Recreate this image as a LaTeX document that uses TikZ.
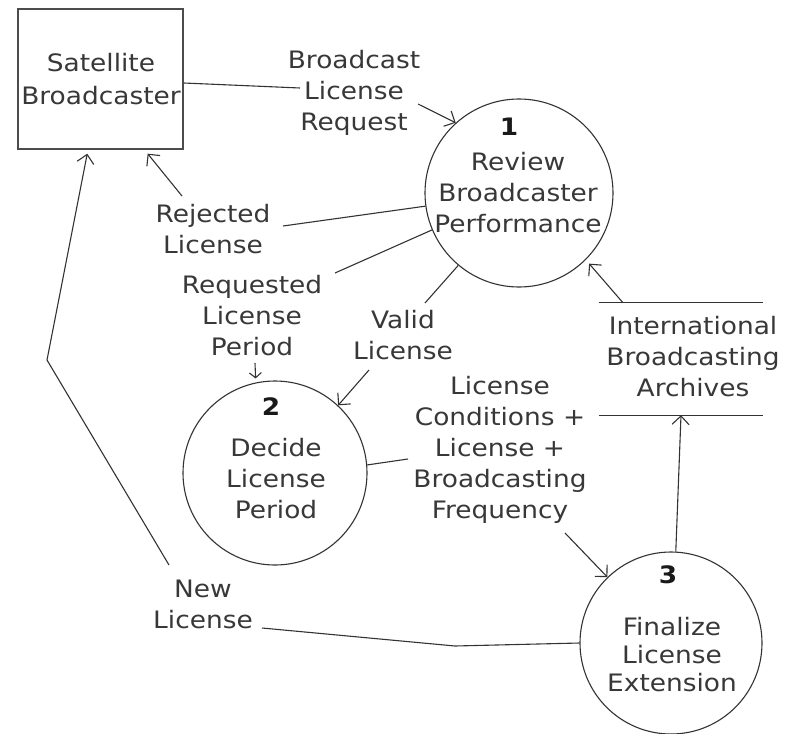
\documentclass[tikz,border=0pt]{standalone}
\usepackage{fontspec}
\setmainfont{DejaVu Sans}[FakeStretch=1.1]
\usetikzlibrary{arrows.meta}
\begin{document}
\begin{tikzpicture}[x=1pt,y=-1pt,
  txt/.style={font=\fontsize{24}{31}\selectfont, align=center, inner sep=0pt, text=black!78},
  num/.style={font=\fontsize{24}{28}\selectfont\bfseries, inner sep=0pt, text=black!90},
  proc/.style={circle, draw=black!80, line width=1.1pt, inner sep=0pt},
  flow/.style={draw=black!80, line width=1.1pt},
  arr/.style={flow, -{Straight Barb[length=8.5pt,width=17pt,line width=1.1pt]}}]
\useasboundingbox (0,0) rectangle (793,734);
\fill[white] (0,0) rectangle (793,734);

% external entity
\node[draw=black!70, line width=1.6pt, minimum width=165pt, minimum height=140pt, inner sep=0pt] (sat) at (100.5,79) {};
\node[txt] (satt) at (101,79) {Satellite\\[2pt]Broadcaster};

% processes
\node[proc, minimum size=188pt] (c1) at (519,193) {};
\node[num] (c1n) at (509,127) {1};
\node[txt] (c1t) at (518,193) {Review\\Broadcaster\\Performance};

\node[proc, minimum size=184pt] (c2) at (275,473) {};
\node[num] (c2n) at (271,407) {2};
\node[txt] (c2t) at (276,479) {Decide\\License\\Period};

\node[proc, minimum size=182pt] (c3) at (671,643) {};
\node[num] (c3n) at (668,575) {3};
\node[txt] (c3t) at (672,655) {Finalize\\[-3pt]License\\[-3pt]Extension};

% data store
\node[minimum width=164pt, minimum height=112pt, inner sep=0pt] (ar) at (681,359) {};
\draw[flow] (ar.north west) -- (ar.north east);
\draw[flow] (ar.south west) -- (ar.south east);
\node[txt] (art) at (693,357) {International\\Broadcasting\\Archives};

% labels
\node[txt] (blr) at (354,93) {Broadcast\\License\\Request};
\node[txt] (rej) at (213,229) {Rejected\\License};
\node[txt] (req) at (252,316) {Requested\\License\\Period};
\node[txt] (val) at (403,335) {Valid\\License};
\node[txt] (cond) at (500,450) {License\\Conditions +\\License +\\Broadcasting\\Frequency};
\node[txt] (newl) at (203,604) {New\\License};

% bend points
\coordinate (b1) at (300,88);
\coordinate (b2) at (418,104);
\coordinate (r1) at (283,226);
\coordinate (r2) at (182,196);
\coordinate (q1) at (335,273);
\coordinate (q2) at (255,363);
\coordinate (v1) at (425,303);
\coordinate (v2) at (369,370);
\coordinate (k1) at (408,459);
\coordinate (k2) at (565,533);
\coordinate (n1) at (455,646);
\coordinate (n2) at (262,628);
\coordinate (n3) at (169,565);
\coordinate (n4) at (47,360);

% flows
\draw[flow] ([yshift=-4pt]sat.east) -- (b1);
\draw[arr] (b2) -- (c1.132);

\draw[flow] (c1.188) -- (r1);
\draw[arr, shorten >=5pt] (r2) -- ([xshift=44pt]sat.south);

\draw[flow] (c1.203) -- (q1);
\draw[flow, -{Straight Barb[length=5pt,width=12pt,line width=1.1pt]}, shorten >=4pt] (q2) -- (c2.102);

\draw[flow] (c1.230) -- (v1);
\draw[arr] (v2) -- (c2.47);

\draw[flow] (c2.5) -- (k1);
\draw[arr] (k2) -- (c3.134);

\draw[arr] (c3.87) -- (ar.south);
\draw[arr, shorten >=5pt] ([xshift=-58pt]ar.north) -- (c1.315);

\draw[flow] (c3.west) -- (n1) -- (n2);
\draw[arr, shorten >=4pt] (n3) -- (n4) -- ([xshift=-12.5pt]sat.south);
\end{tikzpicture}
\end{document}
